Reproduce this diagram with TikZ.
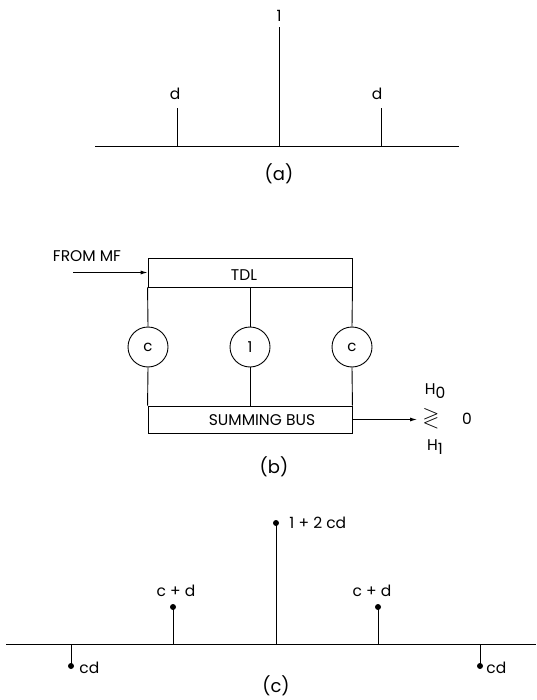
\documentclass[tikz,border=0pt]{standalone}
\usepackage{amssymb}
\usepackage{fontspec}
\setmainfont{Poppins}
\usetikzlibrary{arrows.meta, positioning}

\begin{document}
\begin{tikzpicture}[
    x=1pt, y=-1pt,
    line width=0.9pt,
    >={Latex[length=7pt, width=4pt]},
    lbl/.style={inner sep=0pt, font=\fontsize{15.5}{17}\selectfont},
    partlbl/.style={inner sep=0pt, font=\fontsize{18}{20}\selectfont},
    block/.style={rectangle, draw, minimum width=204pt, minimum height=28pt, inner sep=0pt},
    tap/.style={circle, draw, minimum size=40pt, inner sep=0pt, font=\fontsize{15}{16}\selectfont},
    stemdot/.style={circle, fill, inner sep=0pt, minimum size=6pt}
]
    \useasboundingbox (0,0) rectangle (536,700);

    % (a) input pulse train
    \coordinate (a0) at (95,146);
    \coordinate (a1) at (459,146);
    \draw (a0) -- (a1);
    \coordinate (am) at (279,146);
    \coordinate (amt) at (279,27);
    \coordinate (al) at (177,146);
    \coordinate (alt) at (177,108);
    \coordinate (ar) at (381,146);
    \coordinate (art) at (381,108);
    \draw (am) -- (amt);
    \draw (al) -- (alt);
    \draw (ar) -- (art);
    \node[lbl, above=5pt of amt] {1};
    \node[lbl, above=8pt of alt, xshift=-2pt] {d};
    \node[lbl, above=8pt of art, xshift=-4pt] {d};
    \node[partlbl] at (279,174) {(a)};

    % (b) transversal filter
    \node[block, minimum height=29pt, label={[lbl, shift={(-6pt,-3pt)}]center:TDL}] (tdl) at (250,272.5) {};
    \node[block, minimum height=27pt, label={[lbl, shift={(12pt,-1pt)}]center:SUMMING BUS}] (bus) at (250,419.5) {};
    \node[tap] (tl) at (148,347) {c};
    \node[tap] (tm) at (250,347) {1};
    \node[tap] (tr) at (352,347) {c};

    \draw (tdl.south west) -- (tl.north);
    \draw (tdl.south) -- (tm.north);
    \draw (tdl.south east) -- (tr.north);
    \draw (tl.south) -- (bus.north west);
    \draw (tm.south) -- (bus.north);
    \draw (tr.south) -- (bus.north east);

    \coordinate (mfin) at (73,272.5);
    \draw[->] (mfin) -- (tdl.west);
    \node[lbl] at (87,256) {FROM MF};

    \coordinate (dec) at (417,419.5);
    \draw[->] (bus.east) -- (dec);
    \node[lbl, font=\fontsize{22}{24}\selectfont] (rel) at (431,418) {$\gtrless$};
    \node[lbl] at (435,391) {H\raisebox{-4pt}{0}};
    \node[lbl] at (435,447) {H\raisebox{-4pt}{1}};
    \node[lbl] at (467,419) {0};
    \node[partlbl] at (274,467) {(b)};

    % (c) filter output
    \coordinate (c0) at (6,644);
    \coordinate (c1) at (536,644);
    \draw (c0) -- (c1);
    \coordinate (cl2) at (71,644);
    \coordinate (cl1) at (173,644);
    \coordinate (cm) at (276,644);
    \coordinate (cr1) at (378,644);
    \coordinate (cr2) at (480,644);
    \node[stemdot] (dl2) at (71,666) {};
    \node[stemdot] (dl1) at (173,607) {};
    \node[stemdot] (dm) at (276,523) {};
    \node[stemdot] (dr1) at (378,607) {};
    \node[stemdot] (dr2) at (480,666) {};
    \draw (cl2) -- (dl2.center);
    \draw (cl1) -- (dl1.center);
    \draw (cm) -- (dm.center);
    \draw (cr1) -- (dr1.center);
    \draw (cr2) -- (dr2.center);
    \node[lbl, anchor=west] at (79,668) {cd};
    \node[lbl, anchor=west] at (486,668) {cd};
    \node[lbl] at (176,591) {c + d};
    \node[lbl] at (372,591) {c + d};
    \node[lbl, anchor=west] at (289,523) {1 + 2 cd};
    \node[partlbl] at (276,686) {(c)};
\end{tikzpicture}
\end{document}
